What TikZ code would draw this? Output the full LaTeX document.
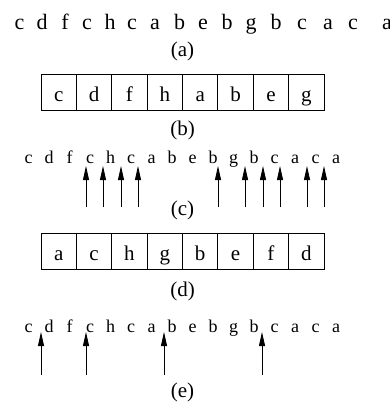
\documentclass[tikz,border=0pt]{standalone}
\usepackage{fontspec}
\setmainfont{Liberation Serif}
\usetikzlibrary{arrows.meta}
\begin{document}
\begin{tikzpicture}[x=1pt,y=-1pt,
  big/.style={font=\fontsize{22}{24}\selectfont, inner sep=0pt, anchor=base},
  lbl/.style={font=\fontsize{21}{24}\selectfont, inner sep=0pt, anchor=base},
  small/.style={font=\fontsize{18}{21}\selectfont, inner sep=0pt, anchor=base},
  cell/.style={draw, line width=0.8pt, minimum width=35.375pt, minimum height=36pt,
    inner sep=0pt, text height=19pt, text depth=0pt, font=\fontsize{21}{24}\selectfont},
  ptr/.style={line width=0.8pt, -{Triangle[length=14pt,width=6pt]}}
]
\useasboundingbox (0,0) rectangle (390,402);

% (a) the full reference string
\foreach \l/\x [count=\i from 0] in {c/19.5,d/42,f/65,c/87,h/110,c/132,a/155,b/179.5,
    e/203,b/227,g/251,b/276,c/302,a/328,c/353,a/387}
  \node[big] (a\i) at (\x,29.5) {\l};
\node[lbl] (lbla) at (182.5,56.4) {(a)};

% (b) cache contents
\foreach \l [count=\i from 0] in {c,d,f,h,a,b,e,g}
  \node[cell] (b\i) at (41+17.6875+35.375*\i,92) {\l};
\node[lbl] (lblb) at (182.5,135.4) {(b)};

% (c) string with the marked positions
\foreach \l [count=\i from 0] in {c,d,f,c,h,c,a,b,e,b,g,b,c,a,c,a}
  \node[small] (c\i) at (28.5+20.5*\i,163) {\l};
\foreach \x [count=\i] in {86,103,121,138,218,245,263,280,307,324} {
  \coordinate (ctail\i) at (\x,207);
  \coordinate (chead\i) at (\x,166);
  \draw[ptr] (ctail\i) -- (chead\i);
}
\node[lbl] (lblc) at (182.5,215.4) {(c)};

% (d) reordered cache contents
\foreach \l [count=\i from 0] in {a,c,h,g,b,e,f,d}
  \node[cell] (d\i) at (41+17.6875+35.375*\i,251) {\l};
\node[lbl] (lbld) at (182.5,296.4) {(d)};

% (e) string with the remaining marked positions
\foreach \l [count=\i from 0] in {c,d,f,c,h,c,a,b,e,b,g,b,c,a,c,a}
  \node[small] (e\i) at (28.5+20.5*\i,332) {\l};
\foreach \x [count=\i] in {41,86,164,262} {
  \coordinate (etail\i) at (\x,375);
  \coordinate (ehead\i) at (\x,332);
  \draw[ptr] (etail\i) -- (ehead\i);
}
\node[lbl] (lble) at (182.5,397.4) {(e)};
\end{tikzpicture}
\end{document}
